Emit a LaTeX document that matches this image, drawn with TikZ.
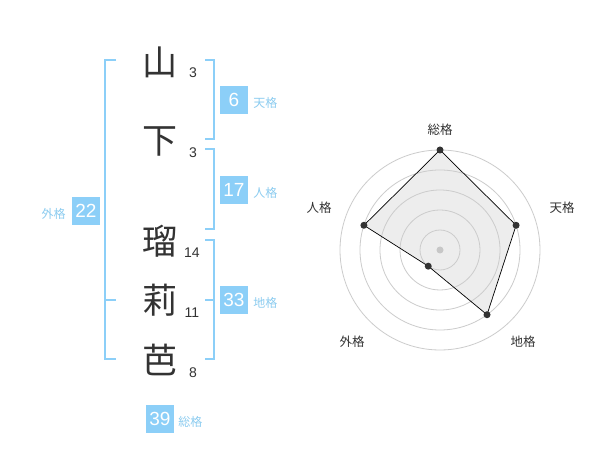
\documentclass[tikz,border=0pt]{standalone}
\usepackage{fontspec}
\setmainfont{Liberation Sans}
\newfontfamily\jpfont{Noto Sans CJK JP}
\usepackage{tikz}
\usetikzlibrary{calc,positioning}
\definecolor{kakublue}{HTML}{8CCFF8}
\definecolor{kakutext}{HTML}{8CCCF0}
\definecolor{inkgray}{HTML}{333333}

\begin{document}
\begin{tikzpicture}[x=1pt, y=-1pt,
  kanji/.style={font=\jpfont\fontsize{35}{35}\selectfont, text=inkgray, inner sep=0pt},
  strokes/.style={font=\fontsize{14}{14}\selectfont, text=inkgray, inner sep=0pt},
  kakubox/.style={fill=kakublue, text=white, minimum size=28pt, inner sep=0pt, font=\fontsize{19}{19}\selectfont},
  kakulabel/.style={font=\jpfont\fontsize{12}{12}\selectfont, text=kakutext, inner sep=0pt},
  bracket/.style={draw=kakublue, line width=2pt},
  ring/.style={draw=black!20, line width=0.8pt},
  dot/.style={circle, fill=inkgray, inner sep=0pt, minimum size=7pt},
  axislabel/.style={font=\jpfont\fontsize{12.5}{12.5}\selectfont, text=inkgray, inner sep=0pt}]
\useasboundingbox[fill=white] (0,0) rectangle (600,470);

% Name characters with stroke counts
\node[kanji] (k1) at (160,62) {山};
\node[kanji] (k2) at (160,141) {下};
\node[kanji] (k3) at (160,241) {瑠};
\node[kanji] (k4) at (160,300) {莉};
\node[kanji] (k5) at (160,360) {芭};
\node[strokes] (s1) at (193,73) {3};
\node[strokes] (s2) at (193,153) {3};
\node[strokes] (s3) at (192,253) {14};
\node[strokes] (s4) at (192,313) {11};
\node[strokes] (s5) at (193,373) {8};

% Brackets
\coordinate (ga) at (116,60); \coordinate (gb) at (105,60);
\coordinate (gc) at (105,359); \coordinate (gd) at (116,359);
\coordinate (ge) at (105,300); \coordinate (gf) at (116,300);
\draw[bracket] (ga) -- (gb) -- (gc) -- (gd);
\draw[bracket] (ge) -- (gf);
\coordinate (ta) at (205,60); \coordinate (tb) at (214,60);
\coordinate (tc) at (214,139); \coordinate (td) at (205,139);
\draw[bracket] (ta) -- (tb) -- (tc) -- (td);
\coordinate (ja) at (205,149); \coordinate (jb) at (214,149);
\coordinate (jc) at (214,229); \coordinate (jd) at (205,229);
\draw[bracket] (ja) -- (jb) -- (jc) -- (jd);
\coordinate (ca) at (205,240); \coordinate (cb) at (214,240);
\coordinate (cc) at (214,359); \coordinate (cd) at (205,359);
\coordinate (ce) at (205,300); \coordinate (cf) at (214,300);
\draw[bracket] (ca) -- (cb) -- (cc) -- (cd);
\draw[bracket] (ce) -- (cf);

% Boxes with the values
\node[kakubox] (ten) at (234,100) {6};
\node[kakulabel, right=5pt of ten, yshift=-3pt] (tenl) {天格};
\node[kakubox] (jin) at (234,190) {17};
\node[kakulabel, right=5pt of jin, yshift=-3pt] (jinl) {人格};
\node[kakubox] (chi) at (234,300) {33};
\node[kakulabel, right=5pt of chi, yshift=-3pt] (chil) {地格};
\node[kakubox] (gai) at (86,211) {22};
\node[kakulabel, left=6pt of gai, yshift=-3pt] (gail) {外格};
\node[kakubox] (sou) at (160,419) {39};
\node[kakulabel, right=4pt of sou, yshift=-3pt] (soul) {総格};

% Radar chart on the right
\begin{scope}[shift={(440,250)}, y=1pt]
\coordinate (rsou) at (90:100);
\coordinate (rten) at (18:80);
\coordinate (rchi) at (-54:80);
\coordinate (rgai) at (-126:20);
\coordinate (rjin) at (162:80);
\fill[black!7] (rsou) -- (rten) -- (rchi) -- (rgai) -- (rjin) -- cycle;
\foreach \r in {20,40,...,100} \draw[ring] (0,0) circle (\r);
\node[circle, fill=black!22, inner sep=0pt, minimum size=7pt] (mid) at (0,0) {};
\draw[black, line width=0.7pt] (rsou) -- (rten) -- (rchi) -- (rgai) -- (rjin) -- cycle;
\foreach \p in {rsou,rten,rchi,rgai,rjin} \node[dot] at (\p) {};
\node[axislabel] (asou) at (0,120) {総格};
\node[axislabel] (aten) at (122,42) {天格};
\node[axislabel] (achi) at (83,-92) {地格};
\node[axislabel] (agai) at (-88,-92) {外格};
\node[axislabel] (ajin) at (-121,42) {人格};
\end{scope}

\end{tikzpicture}
\end{document}
